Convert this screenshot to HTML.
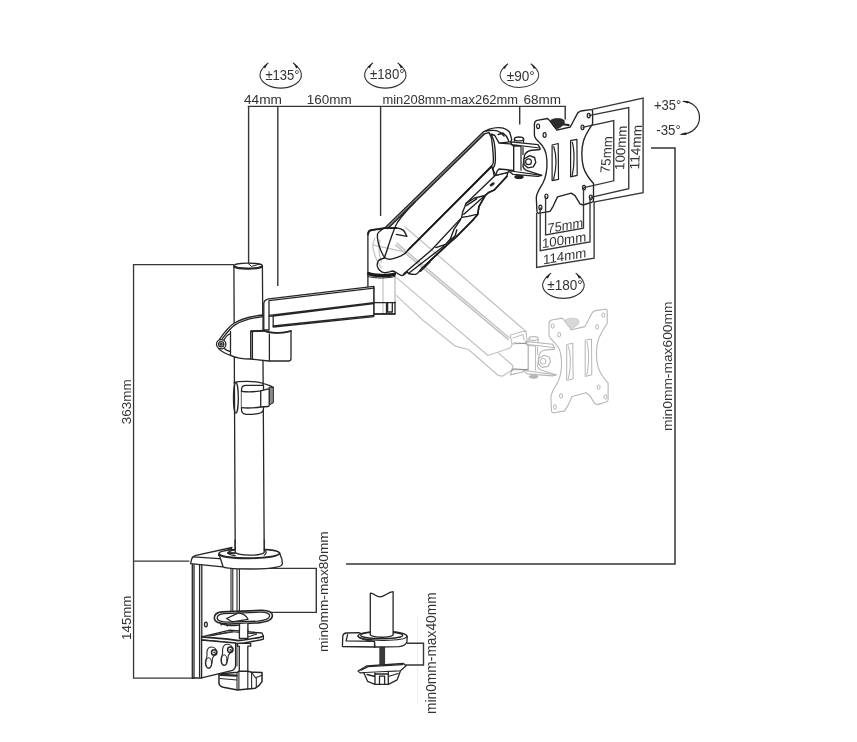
<!DOCTYPE html>
<html><head><meta charset="utf-8">
<style>
html,body{margin:0;padding:0;background:#fff;}
body{width:857px;height:742px;overflow:hidden;font-family:"Liberation Sans",sans-serif;}
svg{display:block;position:absolute;left:0;top:0;}
.d{stroke:#363636;stroke-width:1.5;fill:none;}
.k{stroke:#262626;stroke-width:1.3;fill:none;stroke-linejoin:round;stroke-linecap:round;}
.kf{stroke:#262626;stroke-width:1.3;fill:#fff;stroke-linejoin:round;stroke-linecap:round;}
.g{stroke:#c2c2c2;stroke-width:1.2;fill:none;stroke-linejoin:round;stroke-linecap:round;}
.gf{stroke:#c4c4c4;stroke-width:1;fill:#fff;stroke-linejoin:round;stroke-linecap:round;}
text{font-family:"Liberation Sans",sans-serif;font-size:13.5px;fill:#333;}
.pf{stroke:var(--c);stroke-width:var(--w);fill:#fff;stroke-linejoin:round;}
.p{stroke:var(--c);stroke-width:var(--w2);fill:none;stroke-linejoin:round;}
.main{--c:#222;--w:1.35;--w2:1.2;}
.ghost{--c:#b6b6b6;--w:1.1;--w2:1;}
.a2 .k,.a2 .kf{stroke:#1e1e1e;stroke-width:1.35;}
</style></head><body>
<svg width="857" height="742" viewBox="0 0 857 742">
<rect width="857" height="742" fill="#fff"/>
<!-- DIM LINES -->
<g id="dims" class="d">
<path style="stroke-width:1.2" d="M247.8 106.45H566"/>
<path style="stroke-width:1.4" d="M248.6 106.4V263.2 M277.8 106.4V286 M380.6 106.4V216 M519.7 106.4V124.6 M565.2 106.4V119.4"/>
<path style="stroke-width:1.3" d="M234 264.55H133.55V678.1H194 M133.55 561.2H189.4"/>
<path d="M651 148.1H675V564H346.1"/>
</g>
<!-- TEXT -->
<g id="txt" style="font-size:14.3px">
<text x="244" y="104.2" textLength="38" lengthAdjust="spacingAndGlyphs">44mm</text>
<text x="306.8" y="104.2" textLength="44.9" lengthAdjust="spacingAndGlyphs">160mm</text>
<text x="382.5" y="104.2" textLength="135.5" lengthAdjust="spacingAndGlyphs">min208mm-max262mm</text>
<text x="523.5" y="104.2" textLength="37.5" lengthAdjust="spacingAndGlyphs">68mm</text>
</g>
<!-- ROT SYMBOLS -->
<defs>
<g id="rot">
<path class="k" style="stroke-width:1.1;stroke:#333" d="M-12.6 -12 C-18 -8,-21.6 -3.5,-20.6 1.5 C-19 8.5,-9.5 13,0 13 C9.5 13,19 8.5,20.6 1.5 C21.6 -3.5,18 -8,12.6 -12"/>
<path d="M-12.6 -12.6 L-17.4 -8.4 L-15.6 -6.6Z M12.6 -12.6 L17.4 -8.4 L15.6 -6.6Z" fill="#222" stroke="none"/>
</g>
</defs>
<use href="#rot" x="280.7" y="75.1"/>
<use href="#rot" x="385.3" y="75.1"/>
<use href="#rot" transform="translate(519.4 75.3) scale(0.93 0.94)"/>
<use href="#rot" x="563.4" y="285.4"/>
<text x="265.4" y="79.8" textLength="34.1" lengthAdjust="spacingAndGlyphs" style="font-size:14.3px">±135°</text>
<text x="370" y="79.2" textLength="34.5" lengthAdjust="spacingAndGlyphs" style="font-size:14.3px">±180°</text>
<text x="506.8" y="80.7" textLength="28" lengthAdjust="spacingAndGlyphs" style="font-size:14.3px">±90°</text>
<text x="547.3" y="289.8" textLength="35.5" lengthAdjust="spacingAndGlyphs" style="font-size:14.3px">±180°</text>
<text x="654" y="109.8" textLength="27.3" lengthAdjust="spacingAndGlyphs" style="font-size:14.3px">+35°</text>
<text x="656.3" y="135.3" textLength="24.5" lengthAdjust="spacingAndGlyphs" style="font-size:14.3px">-35°</text>
<path class="k" style="stroke-width:1.2" d="M683.5 101.3 C692 101.5,699.5 108,699.5 117.5 C699.5 127,692 133.6,681.5 134.3"/>
<path d="M681.8 101 L688.5 100.9 L688 103.4Z M679.5 134.4 L686 132.2 L686.4 135Z" fill="#222"/>
<!--GHOST-->

<use href="#tilt" class="ghost" transform="translate(14.6 199.6)"/>
<use href="#plate" class="ghost" transform="translate(14.6 199.6)"/>
<path transform="translate(14.6 199.6)" d="M550.4 121.2 C550.6 119.6,554 118.6,557.5 118.6 C561 118.6,564 119.5,564.2 121 L564.2 123.6 C563 125.5,560 127.8,557.2 128.8 C556 129,555.2 128.4,554.6 127.6Z" fill="#d8d8d8" stroke="#c4c4c4" stroke-width="0.8"/>

<!--POLE-->
<g id="pole">
<path class="kf" d="M233.9 266 L235.2 549.5 H264.2 L262.4 266"/>
<ellipse class="kf" cx="248.15" cy="265.8" rx="14.25" ry="2.7"/>
<path class="k" style="stroke-width:2" d="M234.3 266.6 C238 269.3,258 269.3,262 266.6"/><path class="k" style="stroke-width:1" d="M248.6 264 L251.5 266.4 L259 264.3"/>
<!-- collar -->
<path class="kf" d="M263 315 C250 316.5,240 319.5,234 323.3 C230.5 325.6,225 331.5,219.8 338.8 L218.6 348.6 C221.5 351.5,226 354,230.5 355.3 C236 358,244 359,250.8 359 L250.8 331.5 L263 331.5Z"/>
<path class="k" d="M263 316.7 C250 318.2,241 321.2,235 324.9 C231.5 327.2,227 332.5,222.5 338.3"/>
<path class="k" d="M230.5 331.5 V355.3 M230.5 333.5 C228 334.5,225.5 337,224 340 M230.5 351.5 C228 351,225.3 349.5,224 348.2"/>
<circle class="kf" cx="221.2" cy="344.2" r="4.7"/>
<circle class="k" cx="221.2" cy="344.2" r="2.6"/>
<circle class="k" cx="221.2" cy="344.2" r="0.9"/>
<!-- front clamp -->
<path class="kf" d="M250.8 331.5 L264 331 C270 333.5,282 333.5,291 331 V358.5 Q291 361 288.5 361 H268.5 L250.8 359Z"/>
<path class="k" style="stroke-width:1.7" d="M251 331.2 L264 330.6 C270 333.6,282 333.6,291 331"/>
<path class="k" d="M252.4 332V359 M269.4 334V360.8"/>
<!-- cable clip -->
<path class="k" d="M234.1 382.7 C238 380.8,256 380.6,263.4 383.5 L269.8 385.7 L273.4 387.4"/>
<ellipse class="k" cx="235.9" cy="397.9" rx="2.4" ry="15.2"/>
<path class="kf" d="M246 385.3 H263.5 V408.5 C263.5 411.5,262 412.8,259 413.3 C254 414.4,250 414.5,246 414.3 Q241.5 413.8 241.5 409.5 V389.8 Q241.5 385.3 246 385.3Z"/>
<path d="M269.1 387 L273.4 387.6 V402.8 L269.1 405Z" fill="#8a8a8a" stroke="#2b2b2b" stroke-width="1"/>
<path class="kf" d="M241.6 391.4 C248 392.3,255 391.8,260.5 390.8 L268.4 388.8 Q269.3 389 269.2 390.5 V405.3 Q269.2 406.5 268 406.5 L260.5 407 C255 407.8,248 408.3,241.6 407.7"/>
<path class="k" d="M260.7 391 V407"/>
</g>

<!--ARM1-->
<g id="arm1">
<!-- joint post -->
<path d="M367.9 287 V234 Q367.9 229.8 373 229.7 L391 228.3 Q395 228.5 395 233 V313.8 H373.8 V287Z" fill="#fff" stroke="none"/>
<path class="k" d="M367.9 287 V234 Q367.9 229.8 373 229.7 L391 228.3 Q395 228.5 395 233 V274 M395 302 V313.8 H373.8 V287"/>
<path d="M395 276 V302" stroke="#b8b8b8" stroke-width="1.2" fill="none"/>
<path class="k" style="stroke-width:3.3;stroke:#1a1a1a" d="M368.6 273.6 C374 275.8,387 276.2,394.4 274.4"/>
<path class="k" style="stroke-width:1" d="M368 276.5 C374 278.5,388 278.5,395 276.5"/>
<path class="k" d="M373.8 302.6 H395 M386.5 302.6 V313.8 M387.6 303 V312 H392.3 V303"/>
<path class="k" style="stroke-width:1.6" d="M373.8 314 H395"/>
<!-- arm1 body -->
<path class="kf" d="M263.8 330 V303.5 Q264 299.6 268.8 298.8 L373.8 286.3 V316.6 L273.2 327 V316.2 L269 316.2 V330Z"/>
<path class="k" d="M269 300.6 L373.8 288.1 M269 300.6 V316.2 M269 315.4 L373.8 302.6 M273.2 316.2 L373.8 303.6 M273.2 326 L373.8 315.5"/>
</g>

<!--ARM2-->
<g id="arm2" class="a2">
<!-- lower body -->
<path class="kf" d="M384.2 258 C381 259,378.6 259.8,378.1 261.2 C377.2 263,377 264.5,377.3 266.1 C377.8 268,378.6 269.3,379.7 270.2 C381 271.5,382.3 272.3,383.8 272.7 C386 273,387.5 272.2,389.5 271.8 C391 271.4,392 271,392.8 271 C394.5 271.3,396 272.5,397.7 273.5 C399.5 274.6,400.6 275.4,401.8 275.5 C402.6 275.5,403 275.3,403.4 275.1 L407.5 271.8 C408 272.5,408 273,408.3 273.5 C411 274.2,413.5 274.6,415.7 274.3 C417 274,418 273,418.9 271.8 L422.2 267.8 L425 265.6 L446.6 245.4 L456.3 236.8 L472.4 220.6 L477.8 214.2 L478.9 206.6 L485.3 195.3 L488.6 192.6 L494.3 190 L506.9 176.3 L507.9 172.4 L495.7 175.3 L491.4 166.5 L407.5 250Z"/>
<!-- top face -->
<path class="kf" d="M377.5 234 C379 230.8,382.5 229.3,386.1 226.8 L483.3 131.9 L489.4 129.2 C493 128,496 127.6,499.1 127.7 C502 127.8,504.5 128.3,505.9 129.2 C508 130.5,509.3 131.5,509.8 132.6 L511.7 139.4 L510.8 141.8 L499.1 143.2 L494.8 135.5 L490.9 134 C492.8 138,494 140.5,494.3 143.2 C495.2 149,495.6 157,495.2 162.7 C495 165.5,493.8 167,492.8 168.5 L491.4 166.5 L408.3 249.8 C406.5 252.3,404.5 254.3,401 255.8 C397 257.5,392.5 259.3,388.7 259.2 C386.3 259,384.8 257.8,383.3 255.5 C380.8 251,378 243.5,377.4 237.5Z"/>
<path class="k" style="stroke-width:1.9" d="M408.3 249.8 L491.4 166.5"/>
<path class="k" style="stroke-width:1.7" d="M506.9 176.3 L494.3 190 L488.6 192.6 L485.3 195.3 L478.9 206.6 L477.8 214.2 L472.4 220.6 L456.3 236.8 L446.6 245.4 L425 265.6"/>
<!-- A second line -->
<path d="M387 227.7 L484.2 132.8" stroke="#777" stroke-width="1.4" fill="none"/><path class="k" d="M387.9 228.6 L485 133.6 L488.9 132.6"/>
<!-- cap inner -->
<path class="k" d="M486 131.1 C490 130.3,493 130.3,496.2 130.6 C498.5 131,500.5 132.3,502 134 L504 136 M498.2 134.5 L503 133 C505 134.5,507 136.5,507.9 138.9 L508.8 141.3"/>
<!-- end cap outer -->
<path class="k" d="M488.9 132.6 C490.5 135,491.5 137.5,491.8 140.3 C492.8 148,493.6 157,493.3 162.7 C493.1 164.5,492 165.6,490.9 166.5"/>
<!-- hinge cover curve -->
<path class="k" d="M415 202 C408 209,402 216,397.7 222 C395.5 225.5,394.5 228,393.6 231 C392 235,390.8 238.5,389.5 242.4 C388 247,386.8 251,385.4 254.7 L384.2 258"/>
<!-- C upper -->
<path class="k" d="M494.3 176.3 L466 203.4 L462.7 212 L461.6 217.6 L431.5 250 L403.5 274"/>
<path class="k" d="M492.8 168.5 L494.3 176.3 L495.7 175.3"/>
<!-- 2nd below-window line -->
<path class="k" d="M460.6 219.5 L454 229.3 L450.3 239 L445.5 244.4 L435.8 247.6 M456.8 229.8 L455.2 235.7 L445.5 244.4 M444 246 L409 273"/>
<!-- window 1 -->
<path class="k" d="M466 203.4 L474.6 198 L485.3 195.3 M466.3 205.6 L476.7 198.9 M461.6 217.4 L468.1 216.3 L477.8 214.2 M485.3 195.3 L463.8 214.2"/>
<!-- oval hole -->
<ellipse cx="492.2" cy="184.3" rx="2.9" ry="1.4" transform="rotate(-35 492.2 184.3)" fill="#222"/>
<!-- lower rails -->
<path class="k" d="M425 265.6 L442 249.5 M420.6 271.2 L430 262"/>
</g>

<!-- post top overlay -->
<g class="a2">
<path class="k" style="stroke-width:1.8" d="M368 234.5 Q368.3 230.3 372.5 230 L384 228.2 L396.3 228"/>
<path class="k" d="M396.3 228 C400 228.3,403 229.5,404.5 231.5 L406.9 236.3 M396.3 234.4 L406.9 236.3 L404 231"/>
</g>
<g id="ghost" class="g" style="mix-blend-mode:multiply">
<path d="M437.4 254.7 L526 331.5 L527 340.5"/>
<path d="M405 227 L437.4 254.7"/>
<path style="stroke-width:1.5" d="M397 243.4 L509 337.5 M395.8 245.2 L508 339.4"/>
<path d="M374.8 238.3 C373 242,372.6 246,373.2 249 C374.5 256,377.5 262.5,381.3 267.8 M372.4 244.9 L405.8 252.2"/>
<path d="M396.5 277.6 L488 355.5 L509.4 348.2 C511.5 347,512.3 345.5,512 343.8 L510.3 335 L522.6 331.5 L526 331.5"/>
<path d="M396.5 295.6 L422.7 320 L455.4 346.2 L468.4 349.5 L498 375.3 L502.4 376.2 L512 370 L513 365.7 L498 352.6"/>
<path d="M512 343.8 L528 343 M512 370 L528 369.3 M513 338 L523 334.5 L524 340"/>
<path d="M380 240 C378.5 247,379 256,381.5 262.5 M383 277 V313"/>
</g>
<!--VESA-->
<defs>
<g id="tilt">
<!-- link piece from arm -->
<path class="pf" d="M499.1 143.2 L513.7 144.2 L513.7 170.4 L499.1 169 L497.2 171 L495.7 175.3 L507.9 172.4 L509.3 170.4"/>
<!-- bracket body -->
<path class="pf" d="M510.8 141.8 L538 144.7 L540 148 L540 149.5 L530.2 150.5 C527 151.5,525 153.5,524.4 155.9 L523 166.5 C523.5 168.5,524.8 169.8,526.3 170.4 L541.8 175.3 L538 176.3 L512.7 174.3 L508.8 171 L513.7 170.4 L513.7 146.2 L511.7 144.7Z"/>
<path class="p" d="M511.7 144.7 L540 148 M510.8 171 L541.8 175.3 M513.7 146.2 H521 V170.8 M523 147 V155"/>
<ellipse class="pf" cx="519" cy="138.9" rx="4.6" ry="1.9"/>
<path class="p" d="M514.4 139 V141.8 M523.6 139 V142.8"/>
<ellipse cx="519" cy="177" rx="4.4" ry="1.7" style="fill:var(--c);stroke:var(--c)"/>
<path class="pf" d="M529.6 155.7 L534.6 157.5 L535.8 162.3 L533.3 166.8 L527.8 167.8 L524 164.5 L523.9 159Z"/>
<circle class="p" cx="528.5" cy="161.7" r="2.9"/>
</g>
<g id="plate">
<path class="pf" d="M534.4 124.5 Q534.4 121 537.2 120.4 L547.5 118.5 L549.4 120.3 L556.9 130.2 L570.3 127 L577.9 112.6 L580.8 111 L590.5 109.6 Q592.5 109.3 592.6 111.5 L592.6 123.8 C590.5 127.5,586 133,583.5 141 C581.3 148,581.3 160,583.5 167.5 C585.5 174,589 178.5,593.5 183.5 L593.5 200 Q593.5 202 591.5 202.4 L583.1 205 L580 203.8 L575 195.6 L571.3 193.1 L557.5 196.9 L553.1 206.3 L550 211.3 L539.5 213.2 Q537 213.5 536.9 211 L536.3 197.5 C536.5 193,540 188,543 183 C546 177,547.3 168,546.9 160 C546.5 152,543.5 146,539.5 142.5 C536.5 140,534.4 138,534.4 135Z"/>
<path class="p" d="M552.1 145 L558.2 143.5 L558.5 179.4 L552.1 180.7Z M553.6 146.3 C556.5 155,556.5 168,553.6 179.5"/>
<path class="p" d="M570.6 140.6 L576.9 139.4 L577.2 175.3 L570.6 176.9Z M572.2 141.8 C574.6 150,574.6 165,572.2 175.7"/>
<ellipse class="p" cx="538.1" cy="126.3" rx="1.5" ry="2.3"/>
<ellipse class="p" cx="544.6" cy="135" rx="1.5" ry="2.3"/>
<ellipse class="p" cx="588.7" cy="115.6" rx="1.5" ry="2.3"/>
<ellipse class="p" cx="582.5" cy="127.3" rx="1.5" ry="2.3"/>
<ellipse class="p" cx="546.4" cy="196.3" rx="1.5" ry="2.3"/>
<ellipse class="p" cx="540.4" cy="207.5" rx="1.5" ry="2.3"/>
<ellipse class="p" cx="584" cy="187.6" rx="1.5" ry="2.3"/>
<ellipse class="p" cx="590.8" cy="197.3" rx="1.5" ry="2.3"/>
</g>
</defs>
<g id="vesa">
<!-- tilt joint behind plate -->
<use href="#tilt" class="main"/>
<use href="#plate" class="main"/>
<!-- knob -->
<path d="M550.4 121.2 C550.6 119.6,554 118.6,557.5 118.6 C561 118.6,564 119.5,564.2 121 L564.2 123.6 C563 125.5,560 127.8,557.2 128.8 C556 129,555.2 128.4,554.6 127.6Z" fill="#2c2c2c" stroke="#222" stroke-width="0.8"/>
<path d="M563 124.2 L569.5 125.3" stroke="#222" stroke-width="1.9" fill="none"/>
</g>

<!-- VESA dims -->
<g class="d" style="stroke-width:1.35">
<path d="M582.5 127.3 L613.75 120.6 V180.8 L584 187.6"/>
<path d="M588.7 115.6 L628.75 107.5 V188.75 L590.8 197.3"/>
<path d="M591.9 109.4 L643.1 98.1 V192.6 L593.5 202.2"/>
<path d="M545.6 196.3 V235 L583.5 228.1 V187.6"/>
<path d="M540.2 207.5 V250.6 L590 241.9 V197.3"/>
<path d="M536.6 213 V267.5 L594.1 258.1 V201"/>
</g>
<g id="vtxt" style="font-size:14px">
<text transform="translate(547.6 233.2) skewY(-9.8)" textLength="35.5" lengthAdjust="spacingAndGlyphs">75mm</text>
<text transform="translate(541.9 248.2) skewY(-9)" textLength="44.3" lengthAdjust="spacingAndGlyphs">100mm</text>
<text transform="translate(543.1 264.4) skewY(-9.5)" textLength="43.1" lengthAdjust="spacingAndGlyphs">114mm</text>
<text transform="translate(609.6 173) rotate(-90) skewY(4.6)" textLength="36.8" lengthAdjust="spacingAndGlyphs">75mm</text>
<text transform="translate(623.9 170) rotate(-90) skewY(4)" textLength="44.4" lengthAdjust="spacingAndGlyphs">100mm</text>
<text transform="translate(638.9 169.4) rotate(-90) skewY(4)" textLength="44.4" lengthAdjust="spacingAndGlyphs">114mm</text>
</g>
<!--CLAMP-->
<g id="clamp">
<!-- desk rect -->
<path class="d" style="stroke-width:1.4" d="M239.5 568.4 H316.3 V612.4 H239.5"/>
<!-- vertical bracket -->
<path class="kf" d="M192.3 563 V678 H201.8 V563Z"/>
<path class="k" d="M194 565 V678 M199.6 565 V677"/>
<!-- threaded rod -->
<path class="k" style="stroke-width:1.1" d="M231 569 V612 M232.8 569 V612 M237 569 V612 M239.4 569 V612"/>
<!-- clamp top plate -->
<path class="kf" d="M232 547.5 L196 555.3 Q192.3 556.3 191.7 559 L190.6 563.6 L222.6 566.8 L226 556Z"/>
<path class="k" d="M193.2 556.9 L223.1 558.8 M218.4 555.5 L231.5 548"/>
<!-- base disc -->
<path class="kf" d="M218.9 553.7 C219.5 547.5,279 547.5,279.6 553.2 L281.9 559.2 L282.4 563.9 C281.5 566.5,278 567,275.4 567.3 C268 568.6,260 569,252 569 C244 569,235 568.8,228.7 568.1 C226 567.8,224 567.5,223.1 566.7 Z"/>
<path class="k" style="stroke-width:1.9" d="M219 554 C222 559.8,276 559.8,279.6 553.4"/>
<path class="k" d="M235.2 555.6 C232 555.3,228.5 554.3,227.7 553 C228.5 551.5,231 550.6,235.2 550.2 M264.2 550.2 C265.5 550.6,266.3 551.5,266.2 552.5 C266 553.8,265 554.6,264.2 555"/>
<path class="k" style="stroke-width:2" d="M228.2 553 L234.5 553.2"/>
<!-- pole bottom cover -->
<path d="M235.8 540 V552.5 C239 556,261 556,263.6 552.5 V540Z" fill="#fff" stroke="none"/>
<path class="k" d="M235.15 540 L235.2 552.5 C239 556,261 556,264.2 552.5 L264.15 540"/>
<!-- pressure plate -->
<path class="kf" d="M222 623.8 C228 626.3,246 626.3,253 621.8 L250 617 L224 619Z"/>
<path class="kf" style="stroke-width:1.6" d="M222 611.9 L261 610.4 C269 610.2,272.6 612.6,272.4 615.8 C272.2 619.8,266 622.2,258 622.9 L229 624 C219.5 624.2,214.3 621.8,214.3 618 C214.3 614.6,217.5 612.3,222 611.9Z"/>
<path class="k" d="M224 613.6 L260 612.2 C266.5 612,269.8 613.6,269.7 615.8 C269.5 618.8,264.5 620.6,257.5 621.2 L229.5 622.2 C221.5 622.4,217.2 620.6,217.2 618 C217.2 615.6,219.8 613.9,224 613.6Z"/>
<path class="k" d="M226.5 618.5 L238.5 612.9 C242.5 613.5,246.5 616,248 619.3 L232 621.8Z"/>
<path class="k" d="M220.5 623.3 L221.3 625 M226.5 624.3 L227.3 626"/>
<ellipse class="k" cx="205.9" cy="624.5" rx="1.4" ry="2.4"/>
<!-- shaft between -->
<path class="kf" d="M239.5 624 V637 H247.9 V623.6"/>
<!-- lower bracket plate -->
<path class="kf" d="M201.6 636.8 L229.9 630.2 L262 633 L263.4 636 L263.4 639.2 L260.1 640 L244 643 L238.4 643.6 L227.1 642.5 L201.6 640Z"/>
<path class="k" style="stroke-width:1.7" d="M201.6 636.8 L228 639.2 L238.4 640.6 L244 640 L260.1 637.3 L263.2 636.2"/>
<path class="k" style="stroke-width:1" d="M209 636 L230.5 631.6 L257 634 L246 637.6 M212.9 635.4 L232.7 632"/>
<path class="kf" d="M239.4 629.5 V638.5 H247.8 V629.5"/>
<!-- front face -->
<path class="kf" d="M201.6 640 V677.8 L232.7 670.3 Q235.6 668.8 235.6 665.6 V643Z"/>
<path class="k" style="stroke-width:1" d="M237 644 V666"/>
<path class="k" style="stroke-width:1.1" d="M211.5 647 C214.5 647,216.3 649.2,216.3 651.8 C216.3 654.5,213.5 655.8,212.6 658 C212.2 660,212.3 661,212 662.7 C211.6 666,210.5 668.3,208.7 668.3 C206.5 668.3,205.3 665.5,205.4 662.5 C205.5 659.5,207 657.5,207 655.5 C206.8 653.5,206.8 652,207.2 650.5 C207.8 648.3,209.5 647,211.5 647Z"/>
<ellipse class="k" style="stroke-width:1" cx="208.7" cy="662.9" rx="2.9" ry="5.2"/>
<circle class="k" style="stroke-width:1.5" cx="214.2" cy="652.4" r="2.7"/><circle cx="214.2" cy="652.4" r="0.9" fill="#333"/>
<path class="k" style="stroke-width:1.1" d="M227.5 644.2 C230.5 644.2,232.3 646.4,232.3 649 C232.3 651.7,229.5 653,228.5 655.2 C228 657,228 658.3,227.6 660 C227.2 663.3,226 665.5,224.2 665.5 C222 665.5,220.9 662.8,221 659.8 C221.1 656.8,222.6 654.8,222.6 652.8 C222.4 650.8,222.5 649.3,222.9 647.8 C223.5 645.6,225.3 644.2,227.5 644.2Z"/>
<ellipse class="k" style="stroke-width:1" cx="224.2" cy="660" rx="2.8" ry="5.2"/>
<circle class="k" style="stroke-width:1.5" cx="230.3" cy="649.8" r="2.7"/><circle cx="230.3" cy="649.8" r="0.9" fill="#333"/>
<!-- shaft lower -->
<path class="kf" d="M237.5 643.4 H250.7 V646.2 H247.8 V672 H239.3 V646.2 H237.5Z"/>
<!-- knob -->
<path class="kf" style="stroke-width:1.5" d="M219 674 L237.5 672.2 L239.3 671.2 L247.8 671.2 L251.6 672.2 L262 672.6 L262 681.6 L259.2 685.4 L255.4 688.2 L237.5 690 L223.3 687.3 Q219.2 686 219 683.5Z"/>
<path class="k" style="stroke-width:2.2" d="M220.6 674.8 L236.5 675.7"/>
<path class="k" style="stroke-width:1.1" d="M237 673 V689.8 M238.9 672 V689.6 M247.8 671.5 V689 M251.6 672.5 V688.6 M256.3 677.5 V687.5 M251.6 672.2 L255.4 677.8 L262 675.3 M220 678.5 L237 680"/>
</g>

<!--CLAMP2-->
<g id="clamp2">
<path d="M417.5 615 V704" stroke="#f0f0f0" stroke-width="1" fill="none"/>
<path class="d" style="stroke-width:1.4" d="M407 643.2 H423.5 V665 H405.5"/>
<!-- screw -->
<rect x="379.3" y="647" width="5.8" height="20.5" fill="#3a3a3a"/>
<!-- plate left -->
<path class="kf" d="M358.7 632.7 L346.5 633 Q343.2 633.3 342.8 636 L342.4 646.5 L375 647 L378 640Z"/>
<path class="k" d="M347.6 634.6 L346.1 640.8 L374.5 641.3 V647"/>
<!-- base disc -->
<path class="kf" d="M358 636 C358 630,406 629.5,407.2 636.5 L406.9 642 C405.5 645,402 646.3,399 646.6 L375 647 L374.5 641.3 C366 640.5,358.5 639,358 636Z"/>
<path class="k" d="M358 636 C360 641.5,404 641.8,407.2 636.5"/>
<ellipse class="k" cx="381.7" cy="635.3" rx="21" ry="3.4"/>
<!-- pole -->
<path class="kf" d="M370.3 593.2 C374.5 593,375.5 596.9,380 596.9 C385.5 596.9,387.5 591.7,393.1 591.7 V635 C390 638,374 638,370.3 635Z"/>
<!-- lower plate -->
<path class="kf" d="M358 671 L366.9 665.8 L403.4 663.5 L406.1 665.8 L400.2 671 L360.2 672.8Z"/>
<path class="k" d="M361 670.3 L368 666.6 L402.5 664.6"/>
<!-- knob -->
<path class="kf" d="M363.9 673 L367.6 681.3 L375 684.3 L388.3 684.3 L397.2 679.8 L400.2 671.5"/>
<path class="k" d="M375 673 V684.3 M388.3 672.5 V684.3 M379.5 676.1 H384.6 V684 M379.5 676.1 V684 M367 674.5 L375 676.5 M388.3 676.5 L398 673.5"/>
<path class="k" style="stroke-width:1.6" d="M375 674 H388.3"/>
</g>
<!-- vertical texts -->
<g id="vt" style="font-size:15px">
<text transform="translate(131.2 424.2) rotate(-90)" textLength="44.8" lengthAdjust="spacingAndGlyphs">363mm</text>
<text transform="translate(131 639.9) rotate(-90)" textLength="44.3" lengthAdjust="spacingAndGlyphs">145mm</text>
<text transform="translate(328.3 652) rotate(-90)" textLength="120.7" lengthAdjust="spacingAndGlyphs">min0mm-max80mm</text>
<text transform="translate(435.5 714) rotate(-90)" textLength="121.7" lengthAdjust="spacingAndGlyphs" style="font-size:14.5px">min0mm-max40mm</text>
<text transform="translate(672 431) rotate(-90)" textLength="129.5" lengthAdjust="spacingAndGlyphs">min0mm-max600mm</text>
</g>

</svg>
</body></html>
